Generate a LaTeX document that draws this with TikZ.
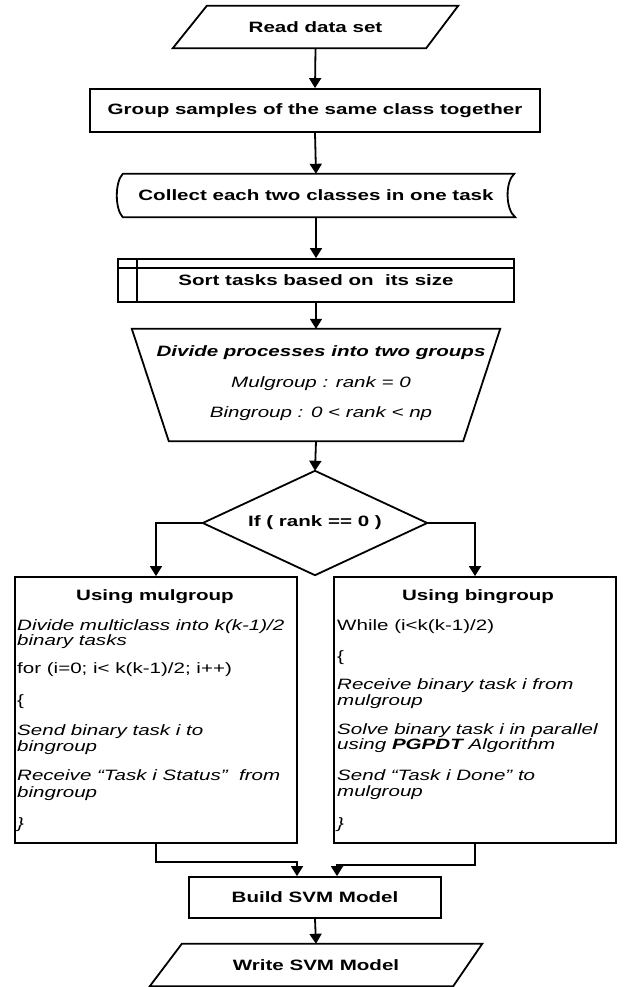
\documentclass[tikz,border=0pt]{standalone}
\usepackage{fontspec}
\setmainfont{Liberation Sans}[FakeStretch=1.37]
\usetikzlibrary{arrows.meta,calc}
\begin{document}
\begin{tikzpicture}[x=1pt,y=-1pt,
  every node/.style={font=\fontsize{15}{17}\selectfont},
  shp/.style={line width=1.8pt, line join=miter},
  box/.style={draw=none, inner sep=0pt},
  rbox/.style={draw, line width=1.8pt, inner sep=0pt},
  arr/.style={line width=1.8pt, -{Triangle[width=12pt,length=10pt]}},
  ln/.style={anchor=west, inner sep=0pt, text height=11pt, text depth=3.5pt, font=\fontsize{15}{17}\selectfont\itshape},
  lnu/.style={ln, font=\fontsize{15}{17}\selectfont\upshape},
  ttl/.style={font=\fontsize{15}{17}\selectfont\bfseries},
]
\useasboundingbox[fill=white] (0,0) rectangle (633,987);

% Read data set (parallelogram)
\node[box, ttl, minimum width=285pt, minimum height=42pt] (read) at (315.5,27) {Read data set};
\draw[shp] ([xshift=34pt]read.north west) -- (read.north east) -- ([xshift=-32pt]read.south east) -- (read.south west) -- cycle;

% Group samples
\node[rbox, ttl, minimum width=450pt, minimum height=43pt] (group) at (315,110.5) {Group samples of the same class together};

% Collect (stored data)
\node[box, ttl, minimum width=398pt, minimum height=43pt] (collect) at (316,195.5) {Collect each two classes in one task};
\draw[shp] ([xshift=6pt]collect.north west) -- ([xshift=-1pt]collect.north east)
  .. controls ([xshift=-10pt,yshift=-8pt]collect.north east) and ([xshift=-10pt,yshift=8pt]collect.south east) .. (collect.south east)
  -- ([xshift=6pt]collect.south west)
  .. controls ([xshift=-2pt,yshift=8pt]collect.south west) and ([xshift=-2pt,yshift=-8pt]collect.north west) .. ([xshift=6pt]collect.north west) -- cycle;

% Sort (predefined process)
\node[rbox, ttl, minimum width=396pt, minimum height=43pt] (sort) at (316,280.5) {Sort tasks based on\ \ its size};
\draw[shp] ([xshift=20pt]sort.north west) -- ([xshift=20pt]sort.south west);
\draw[shp] ([yshift=-10pt]sort.north west) -- ([yshift=-10pt]sort.north east);

% Divide (trapezoid)
\node[box, minimum width=368pt, minimum height=112pt] (divide) at (316,385) {};
\draw[shp] (divide.north west) -- (divide.north east) -- ([xshift=-37pt]divide.south east) -- ([xshift=37pt]divide.south west) -- cycle;
\node[inner sep=0pt, font=\fontsize{15}{17}\selectfont\bfseries\itshape] (dv1) at (321,353) {Divide processes into two groups};
\node[inner sep=0pt, font=\fontsize{15}{17}\selectfont\itshape] (dv2) at (321,384) {Mulgroup : rank = 0};
\node[inner sep=0pt, font=\fontsize{15}{17}\selectfont\itshape] (dv3) at (321,414) {Bingroup : 0 < rank < np};

% Decision diamond
\node[box, ttl, minimum width=224pt, minimum height=104pt] (dec) at (315,523) {If ( rank == 0 )};
\draw[shp] (dec.north) -- (dec.east) -- (dec.south) -- (dec.west) -- cycle;

% Left box
\node[rbox, minimum width=282pt, minimum height=266pt] (mul) at (156,710) {};
\node[ttl, inner sep=0pt] (mult) at (155,597) {Using mulgroup};
\node[ln] (m1) at (17,627) {Divide multiclass into k(k-1)/2};
\node[ln] (m2) at (17,642) {binary tasks};
\node[lnu] (m3) at (17,670) {for (i=0; i< k(k-1)/2; i++)};
\node[lnu] (m4) at (17,702) {\{};
\node[ln] (m5) at (17,732) {Send binary task i to};
\node[ln] (m6) at (17,748) {bingroup};
\node[ln] (m7) at (17,777) {Receive “Task i Status”\ \ from};
\node[ln] (m8) at (17,794) {bingroup};
\node[ln] (m9) at (17,825) {\}};

% Right box
\node[rbox, minimum width=282pt, minimum height=266pt] (bin) at (475,710) {};
\node[ttl, inner sep=0pt] (bint) at (478,597) {Using bingroup};
\node[lnu] (b1) at (337,627) {While (i<k(k-1)/2)};
\node[lnu] (b2) at (337,658) {\{};
\node[ln] (b3) at (337,686) {Receive binary task i from};
\node[ln] (b4) at (337,702) {mulgroup};
\node[ln] (b5) at (337,731) {Solve binary task i in parallel};
\node[ln] (b6) at (337,746) {using \textbf{PGPDT} Algorithm};
\node[ln] (b7) at (337,777) {Send “Task i Done” to};
\node[ln] (b8) at (337,793) {mulgroup};
\node[ln] (b9) at (337,825) {\}};

% Build SVM Model
\node[rbox, ttl, minimum width=252pt, minimum height=41pt] (build) at (315,897.5) {Build SVM Model};

% Write SVM Model (parallelogram)
\node[box, ttl, minimum width=332pt, minimum height=42pt] (write) at (316,965) {Write SVM Model};
\draw[shp] ([xshift=32pt]write.north west) -- (write.north east) -- ([xshift=-29pt]write.south east) -- (write.south west) -- cycle;

% Connectors
\draw[arr] (read.south) -- (group.north);
\draw[arr] (group.south) -- (collect.north);
\draw[arr] (collect.south) -- (sort.north);
\draw[arr] (sort.south) -- (divide.north);
\draw[arr] (divide.south) -- (dec.north);
\draw[arr] (dec.west) -| (mul.north);
\draw[arr] (dec.east) -| (bin.north);
\draw[arr] (mul.south) -- ++(0,18) -| ([xshift=-18pt]build.north);
\draw[arr] (bin.south) -- ++(0,21) -| ([xshift=22pt]build.north);
\draw[arr] (build.south) -- (write.north);
\end{tikzpicture}
\end{document}
